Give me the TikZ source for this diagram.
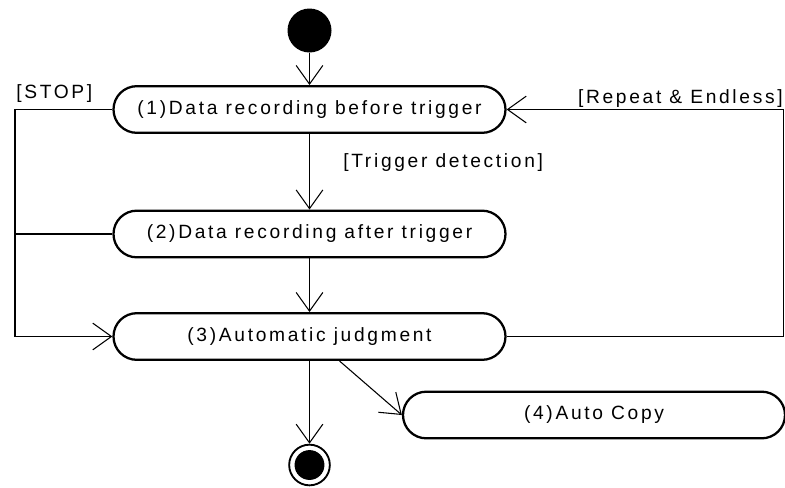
\documentclass[tikz,border=0pt]{standalone}
\usepackage{fontspec}
\setmainfont{Liberation Sans}[LetterSpace=14]
\usetikzlibrary{arrows.meta,calc}

\begin{document}
\begin{tikzpicture}[x=0.75pt,y=-0.75pt,>={Straight Barb[length=14pt,width=20pt]},
  every node/.style={font=\fontsize{14.4}{17}\selectfont},
  act/.style={draw,line width=1.7pt,rounded corners=17.5pt,minimum height=35pt,inner sep=0pt},
  flow/.style={line width=0.8pt},
  guard/.style={inner sep=0pt}]
  \useasboundingbox (0,0) rectangle (785,487);
  \node[circle,fill,inner sep=0pt,minimum size=33pt] (init) at (309.5,30.5) {};
  \node[act,minimum width=294pt] (rec1) at (309.5,109.5) {(1)Data recording before trigger};
  \node[act,minimum width=294pt] (rec2) at (309.5,234) {(2)Data recording after trigger};
  \node[act,minimum width=294pt] (judge) at (309.5,336.5) {(3)Automatic judgment};
  \node[act,minimum width=286.5pt] (copy) at (594,415) {(4)Auto Copy};
  \node[circle,draw,line width=1.4pt,inner sep=0pt,minimum size=30.5pt] (final) at (309.5,465) {};
  \fill (final) circle (11.2pt);
  \coordinate (lt) at (15,109.5);
  \coordinate (lb) at (15,336.5);
  \coordinate (rt) at (783.5,109.5);
  \coordinate (rb) at (783.5,336.5);
  \draw[flow,->] (init) -- (rec1);
  \draw[flow,->] (rec1) -- (rec2);
  \draw[flow,->] (rec2) -- (judge);
  \draw[flow,->] (judge) -- (final);
  \draw[flow,->] ($(judge.south)+(30,0)$) -- (copy.west);
  \draw[flow,->] (rec1.west) -- (lt) -- (lb) -- (judge.west);
  \draw[flow] (rec2.west) -- (rec2.west -| lt);
  \draw[flow,->] (judge.east) -- (rb) -- (rt) -- (rec1.east);
  \node[guard,anchor=west] (stopg) at (16,94) {[STOP]};
  \node[guard,anchor=west] (trig) at (343,163) {[Trigger detection]};
  \node[guard,anchor=east] (rep) at (783,99) {[Repeat \& Endless]};
\end{tikzpicture}
\end{document}
